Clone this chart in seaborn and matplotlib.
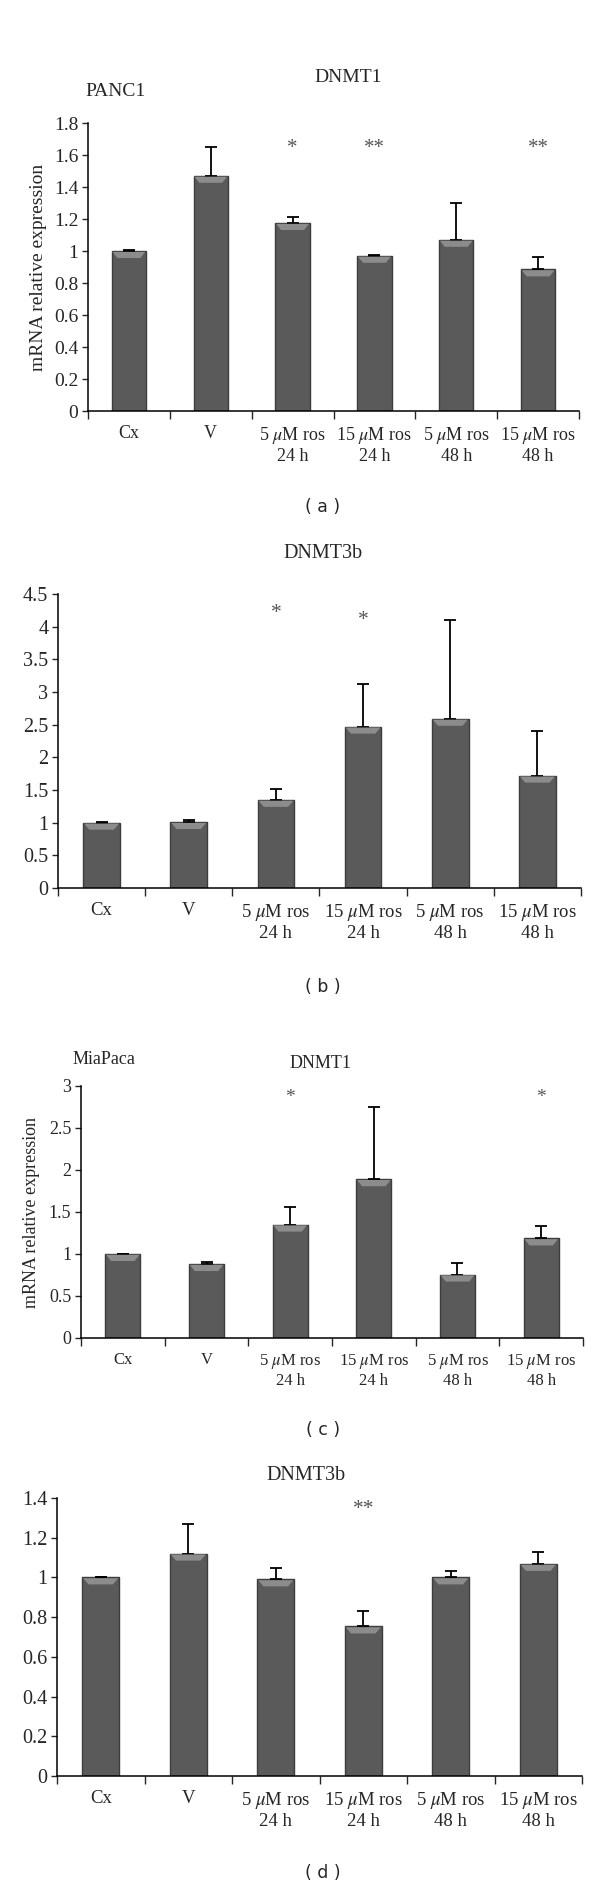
import numpy as np
import matplotlib
matplotlib.use("Agg")
import matplotlib.pyplot as plt
from matplotlib.patches import Polygon
import seaborn as sns

# categories
groups = ["Cx", "V", "5 $\\mu$M ros\n24 h", "15 $\\mu$M ros\n24 h",
          "5 $\\mu$M ros\n48 h", "15 $\\mu$M ros\n48 h"]

# (a) PANC1 DNMT1
panc1_dnmt1 = [1.00, 1.47, 1.175, 0.97, 1.07, 0.885]
panc1_dnmt1_err = [0.005, 0.18, 0.035, 0.005, 0.23, 0.075]
panc1_dnmt1_sig = ["", "", "*", "**", "", "**"]

# (b) PANC1 DNMT3b
panc1_dnmt3b = [1.00, 1.01, 1.35, 2.47, 2.59, 1.72]
panc1_dnmt3b_err = [0.005, 0.03, 0.17, 0.66, 1.51, 0.68]
panc1_dnmt3b_sig = ["", "", "*", "*", "", ""]

# (c) MiaPaca DNMT1
mia_dnmt1 = [1.00, 0.88, 1.35, 1.89, 0.755, 1.185]
mia_dnmt1_err = [0.005, 0.03, 0.21, 0.86, 0.14, 0.15]
mia_dnmt1_sig = ["", "", "*", "", "", "*"]

# (d) MiaPaca DNMT3b
mia_dnmt3b = [1.00, 1.12, 0.99, 0.753, 1.00, 1.068]
mia_dnmt3b_err = [0.003, 0.15, 0.06, 0.077, 0.03, 0.062]
mia_dnmt3b_sig = ["", "", "", "**", "", ""]

sns.set_style("ticks")
plt.rcParams['font.family'] = ['Liberation Serif', 'DejaVu Serif']
plt.rcParams['mathtext.fontset'] = 'stix'

W, H = 600, 1887
fig = plt.figure(figsize=(W / 100, H / 100), dpi=100)

BAR = "#5a5a5a"
EDGE = "#3c3c3c"


def px_axes(l, t, r, b):
    return fig.add_axes([l / W, 1 - b / H, (r - l) / W, (b - t) / H])


def ftext(x, y, s, **kw):
    fig.text(x / W, 1 - y / H, s, **kw)


def panel(box, vals, errs, sig, ymax, ystep, sig_y, fs, fmt, ylabel=None, ylabelpad=4):
    ax = px_axes(*box)
    sns.barplot(x=list(range(len(groups))), y=vals, color=BAR, width=0.42,
                edgecolor=EDGE, linewidth=1.0, saturation=1, ax=ax)
    ax.errorbar(range(len(vals)), vals, yerr=[np.zeros(len(errs)), errs],
                fmt="none", ecolor="black", elinewidth=1.3, capsize=4, capthick=1.3)
    ax.set_ylim(0, ymax)
    # lighter bevel band at the top of each bar
    bev = ymax * 7 / (box[3] - box[1])
    for p in list(ax.patches):
        x0, w, h = p.get_x(), p.get_width(), p.get_height()
        ax.add_patch(Polygon([[x0 + 0.01, h - 0.003 * ymax], [x0 + w - 0.01, h - 0.003 * ymax],
                              [x0 + w - 0.07, h - bev], [x0 + 0.07, h - bev]],
                             closed=True, color="#8c8c8c", lw=0, zorder=3))
    for i, s in enumerate(sig):
        if s:
            ax.text(i, sig_y[i], s, ha="center", va="center", fontsize=fs + 1,
                    color="#555555")
    ax.set_xlim(-0.5, len(vals) - 0.5)
    ticks = np.arange(0, ymax + 1e-9, ystep)
    ax.set_yticks(ticks)
    ax.set_yticklabels([fmt(v) for v in ticks], fontsize=fs)
    ax.set_xticks(np.arange(-0.5, len(vals), 1.0))
    ax.set_xticklabels([])
    ax.set_xticks(range(len(vals)), minor=True)
    ax.set_xticklabels(groups, minor=True, fontsize=fs - 1, linespacing=1.15)
    ax.tick_params(axis="x", which="minor", length=0, pad=10)
    ax.tick_params(axis="x", which="major", length=6, width=1, direction="out")
    ax.tick_params(axis="y", length=4, width=1, direction="out", pad=3)
    for sp in ["top", "right"]:
        ax.spines[sp].set_visible(False)
    for sp in ["left", "bottom"]:
        ax.spines[sp].set_linewidth(1.1)
        ax.spines[sp].set_color("black")
    ax.set_xlabel("")
    if ylabel:
        ax.set_ylabel(ylabel, fontsize=fs, labelpad=ylabelpad)
    return ax


def f1(v):
    s = "%.1f" % v
    return s[:-2] if s.endswith(".0") else s


# (a)
panel((88, 123, 579, 411), panc1_dnmt1, panc1_dnmt1_err, panc1_dnmt1_sig,
      1.8, 0.2, [1.64] * 6, 14, f1, "mRNA relative expression", 5)
ftext(348, 78, "DNMT1", ha="center", va="center", fontsize=14)
ftext(85, 92, "PANC1", ha="left", va="center", fontsize=14)
ftext(323, 507, "( a )", ha="center", va="center", fontsize=12.5, family="DejaVu Sans")

# (b)
panel((58, 594, 581, 888), panc1_dnmt3b, panc1_dnmt3b_err, panc1_dnmt3b_sig,
      4.5, 0.5, [0, 0, 4.2, 4.1, 0, 0], 14.5, f1)
ftext(323, 553, "DNMT3b", ha="center", va="center", fontsize=14.5)
ftext(323, 987, "( b )", ha="center", va="center", fontsize=12.5, family="DejaVu Sans")

# (c)
panel((81, 1086, 583, 1338), mia_dnmt1, mia_dnmt1_err, mia_dnmt1_sig,
      3.0, 0.5, [2.86] * 6, 13, f1, "mRNA relative expression", 6)
ftext(321, 1063, "DNMT1", ha="center", va="center", fontsize=13)
ftext(73, 1060, "MiaPaca", ha="left", va="center", fontsize=13)
ftext(323, 1430, "( c )", ha="center", va="center", fontsize=12.5, family="DejaVu Sans")

# (d)
panel((57, 1498, 582, 1776), mia_dnmt3b, mia_dnmt3b_err, mia_dnmt3b_sig,
      1.4, 0.2, [1.34] * 6, 14.5, f1)
ftext(306, 1475, "DNMT3b", ha="center", va="center", fontsize=14.5)
ftext(323, 1873, "( d )", ha="center", va="center", fontsize=12.5, family="DejaVu Sans")

fig.savefig("out.png", dpi=100, facecolor="white")
